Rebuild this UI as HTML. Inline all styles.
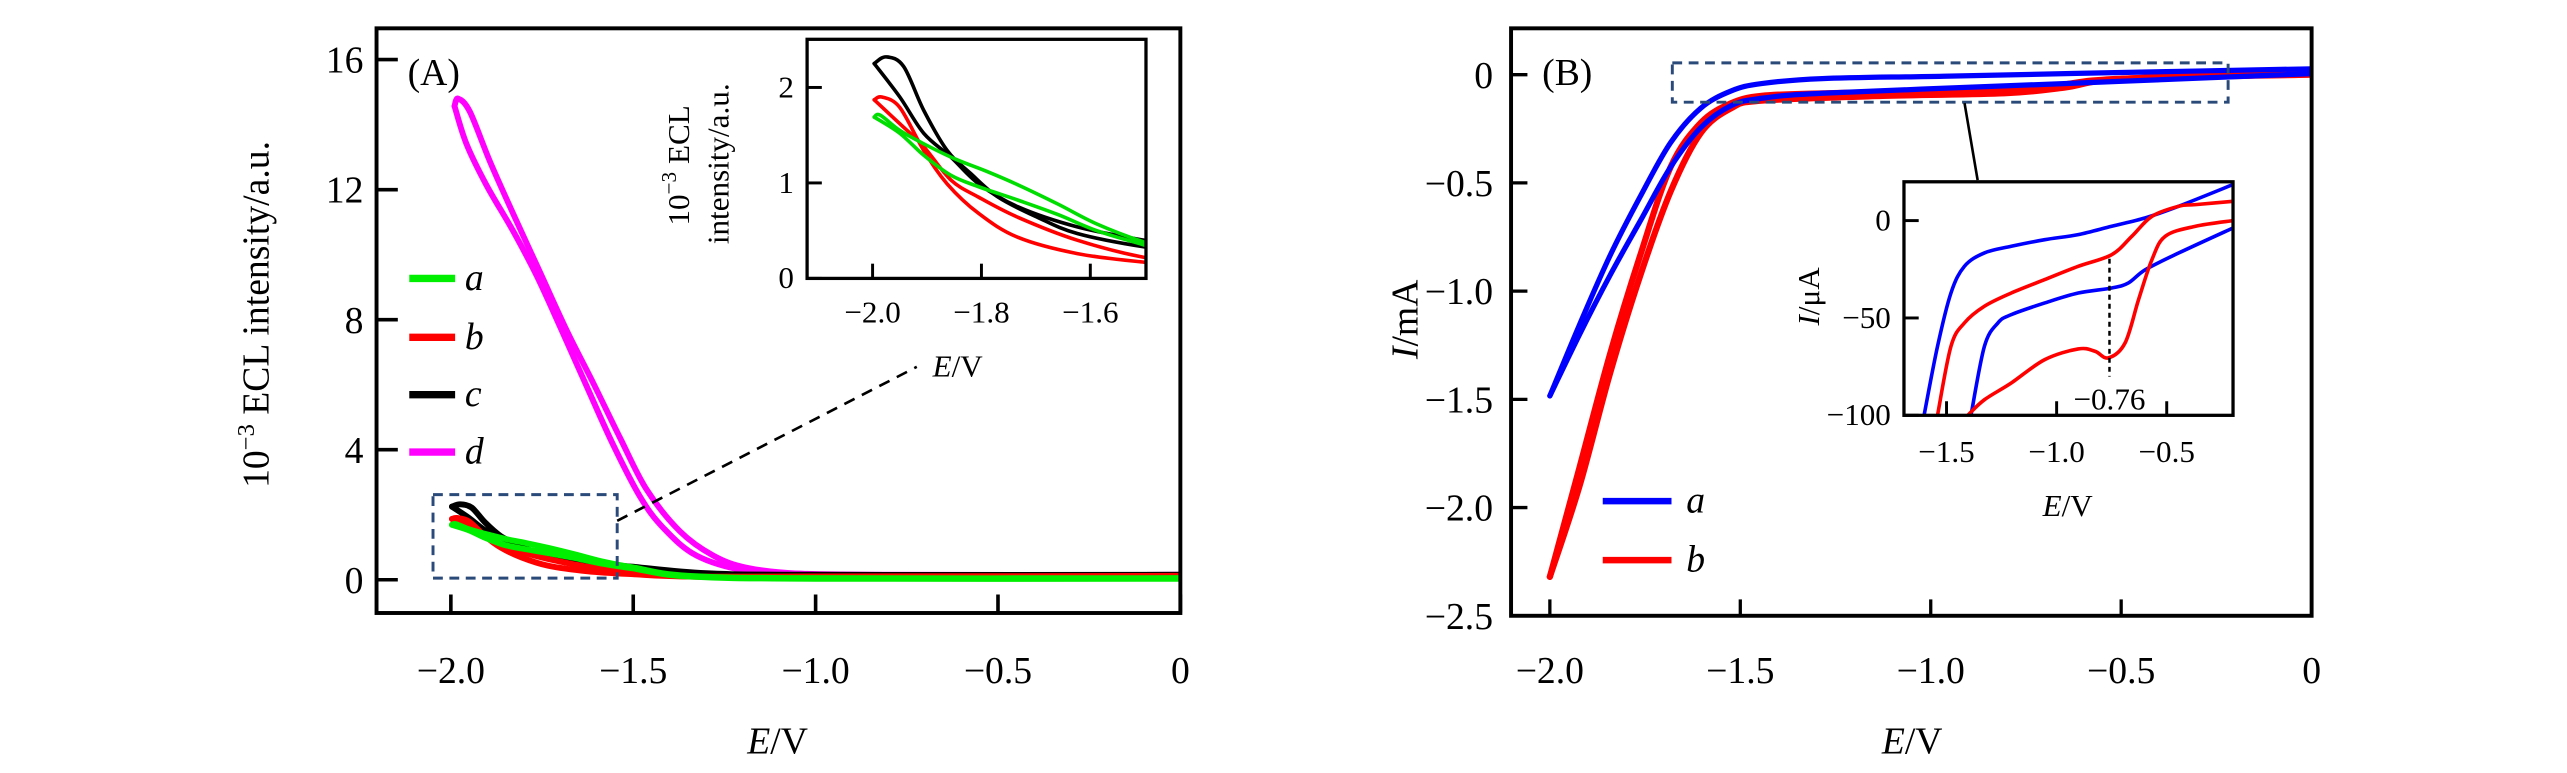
<!DOCTYPE html>
<html><head><meta charset="utf-8">
<style>
html,body{margin:0;padding:0;background:#fff;}
svg{display:block;font-family:"Liberation Serif",serif;}
</style></head>
<body>
<svg id="fig" width="2567" height="773" viewBox="0 0 1568 472" preserveAspectRatio="none" xmlns="http://www.w3.org/2000/svg">
<defs>
<clipPath id="clipA"><rect x="230" y="17" width="491" height="357"/></clipPath>
<clipPath id="clipAi"><rect x="493" y="24" width="207" height="146"/></clipPath>
<clipPath id="clipB"><rect x="923" y="17" width="489" height="359"/></clipPath>
<clipPath id="clipBi"><rect x="1163" y="111" width="201" height="143"/></clipPath>
</defs>
<g id="root"></g>
</svg>
<script>
// ---------- Panel A main data (E / V, 10^-3 ECL) ----------
const dE1=[-1.99,-1.98,-1.948,-1.893,-1.83,-1.756,-1.682,-1.61,-1.536,-1.463,-1.372,-1.28,-1.189,-1.05,-0.8,0];
const dY1=[14.57,14.8,14.4,12.87,11.28,9.47,7.66,6.06,4.36,2.77,1.49,0.74,0.37,0.19,0.15,0.15];
const dE2=[-1.99,-1.957,-1.902,-1.83,-1.765,-1.70,-1.628,-1.555,-1.481,-1.418,-1.326,-1.189,-1.05,-0.8,0];
const dY2=[14.57,13.4,12.13,10.74,9.36,7.77,5.96,4.15,2.55,1.6,0.74,0.27,0.19,0.15,0.15];
const cE1=[-1.997,-1.975,-1.943,-1.906,-1.863,-1.820,-1.769,-1.697,-1.624,-1.501,-1.3,-1.0,0];
const cY1=[2.25,2.32,2.22,1.76,1.34,1.10,0.85,0.64,0.47,0.33,0.18,0.15,0.15];
const cE2=[-1.997,-1.950,-1.906,-1.856,-1.805,-1.733,-1.624,-1.501,-1.3,-1.0,0];
const cY2=[2.25,1.90,1.52,1.27,0.99,0.75,0.54,0.40,0.2,0.15,0.15];
const bE1=[-1.997,-1.983,-1.950,-1.906,-1.863,-1.805,-1.733,-1.624,-1.501,-1.35,-1.0,0];
const bY1=[1.87,1.90,1.79,1.34,0.99,0.68,0.43,0.26,0.17,0.1,0.1,0.12];
const bE2=[-1.997,-1.950,-1.906,-1.856,-1.805,-1.733,-1.624,-1.501,-1.35,-1.0,0];
const bY2=[1.87,1.62,1.38,1.03,0.85,0.64,0.40,0.22,0.1,0.08,0.1];
const aE1=[-1.997,-1.986,-1.950,-1.906,-1.848,-1.790,-1.733,-1.66,-1.588,-1.501,-1.35,-1.0,0];
const aY1=[1.69,1.71,1.55,1.41,1.25,1.12,0.98,0.78,0.57,0.38,0.12,0.05,0.05];
const aE2=[-1.997,-1.950,-1.906,-1.856,-1.805,-1.733,-1.66,-1.588,-1.501,-1.35,-1.0,0];
const aY2=[1.69,1.52,1.29,1.08,0.96,0.82,0.67,0.50,0.35,0.1,0.03,0.03];
const yTicksA=[0,4,8,12,16];
const xTicksA=[-2.0,-1.5,-1.0,-0.5,0];
const xTickLabelsA=["\u22122.0","\u22121.5","\u22121.0","\u22120.5","0"];
const yTicksAi=[0,1,2];
const xTicksAi=[-2.0,-1.8,-1.6];
const xTickLabelsAi=["\u22122.0","\u22121.8","\u22121.6"];
// ---------- Panel B main data (E / V, I / mA) ----------
const baE1=[-2.0,-1.922,-1.842,-1.763,-1.683,-1.604,-1.524,-1.444,-1.285,-0.967,-0.5,0];
const baI1=[-1.484,-1.155,-0.836,-0.564,-0.314,-0.155,-0.075,-0.041,-0.018,-0.007,0.01,0.027];
const baE2=[-2.0,-1.922,-1.842,-1.763,-1.683,-1.604,-1.524,-1.444,-1.285,-0.807,-0.49,0];
const baI2=[-1.484,-1.2,-0.927,-0.677,-0.427,-0.245,-0.143,-0.109,-0.086,-0.052,-0.03,0.005];
const bbE1=[-2.0,-1.922,-1.842,-1.763,-1.683,-1.604,-1.524,-1.444,-1.285,-0.967,-0.73,-0.65,-0.49,0];
const bbI1=[-2.32,-1.814,-1.291,-0.836,-0.427,-0.223,-0.132,-0.098,-0.086,-0.075,-0.07,-0.045,-0.018,0.0];
const bbE2=[-2.0,-1.922,-1.842,-1.763,-1.683,-1.604,-1.524,-1.444,-1.126,-0.807,-0.65,-0.5,0];
const bbI2=[-2.32,-1.9,-1.38,-0.93,-0.54,-0.27,-0.155,-0.12,-0.098,-0.086,-0.06,-0.02,0.02];
const yTicksB=[0,-0.5,-1.0,-1.5,-2.0,-2.5];
const yTickLabelsB=["0","\u22120.5","\u22121.0","\u22121.5","\u22122.0","\u22122.5"];
const xTicksB=[-2.0,-1.5,-1.0,-0.5,0];
const xTickLabelsB=["\u22122.0","\u22121.5","\u22121.0","\u22120.5","0"];
// ---------- Panel B inset data (E / V, I / uA) ----------
const iaE1=[-1.602,-1.541,-1.480,-1.419,-1.328,-1.206,-1.054,-0.902,-0.750,-0.597,-0.445,-0.199];
const iaI1=[-100,-64.6,-37.2,-23.5,-16.6,-13.2,-9.8,-7.2,-2.9,1.4,7.4,18.5];
const iaE2=[-1.389,-1.328,-1.267,-1.206,-1.054,-0.902,-0.750,-0.674,-0.597,-0.445,-0.199];
const iaI2=[-100,-64.6,-52.6,-48.3,-42.3,-37.2,-34.6,-32.0,-25.2,-16.6,-3.8];
const ibE1=[-1.541,-1.480,-1.419,-1.328,-1.206,-1.054,-0.902,-0.750,-0.658,-0.567,-0.445,-0.369,-0.199];
const ibI1=[-100,-64.6,-52.6,-44.0,-37.2,-30.3,-23.5,-17.5,-8.0,2.2,7.4,8.2,9.9];
const ibE2=[-1.404,-1.328,-1.206,-1.054,-0.902,-0.826,-0.765,-0.689,-0.628,-0.567,-0.506,-0.369,-0.199];
const ibI2=[-100,-92.0,-83.4,-71.4,-65.9,-67.1,-70.5,-62.8,-40.6,-20.0,-8.0,-2.9,0];
const yTicksBi=[0,-50,-100];
const yTickLabelsBi=["0","\u221250","\u2212100"];
const xTicksBi=[-1.5,-1.0,-0.5];
const xTickLabelsBi=["\u22121.5","\u22121.0","\u22120.5"];
const peakE=-0.76;

const NS="http://www.w3.org/2000/svg";
const root=document.getElementById('root');
function el(tag,attrs,parent,text){const e=document.createElementNS(NS,tag);for(const k in attrs)e.setAttribute(k,attrs[k]);if(text!==undefined)e.textContent=text;(parent||root).appendChild(e);return e;}
function lin(d0,d1,p0,p1){return v=>p0+(v-d0)*(p1-p0)/(d1-d0);}
function pathD(xs,ys,sx,sy){
  const p=xs.map((x,i)=>[sx(x),sy(ys[i])]);
  let d="M"+p[0][0].toFixed(2)+","+p[0][1].toFixed(2);
  for(let i=0;i<p.length-1;i++){
    const p0=p[i-1]||p[i],p1=p[i],p2=p[i+1],p3=p[i+2]||p2;
    const c1x=p1[0]+(p2[0]-p0[0])/6,c1y=p1[1]+(p2[1]-p0[1])/6;
    const c2x=p2[0]-(p3[0]-p1[0])/6,c2y=p2[1]-(p3[1]-p1[1])/6;
    d+=" C"+c1x.toFixed(2)+","+c1y.toFixed(2)+" "+c2x.toFixed(2)+","+c2y.toFixed(2)+" "+p2[0].toFixed(2)+","+p2[1].toFixed(2);
  }
  return d;
}
function curve(g,xs,ys,sx,sy,color,w,name){
  const p=el('path',{d:pathD(xs,ys,sx,sy),fill:'none',stroke:color,'stroke-width':w,'stroke-linejoin':'round','stroke-linecap':'round'},g);
  
  
}

// ================= Panel A =================
const AxS=lin(-2.0,0,275.4,721), AyS=lin(0,16,354,36.4);
const gA=el('g',{});


const curvesA=el('g',{'clip-path':'url(#clipA)'},gA);


curve(curvesA,dE1,dY1,AxS,AyS,'#ff00ff',3.6,'curve-d-forward');
curve(curvesA,dE2,dY2,AxS,AyS,'#ff00ff',3.6,'curve-d-reverse');
curve(curvesA,cE1,cY1,AxS,AyS,'#000',3.6,'curve-c-forward');
curve(curvesA,cE2,cY2,AxS,AyS,'#000',3.6,'curve-c-reverse');
curve(curvesA,bE1,bY1,AxS,AyS,'#ff0000',3.6,'curve-b-forward');
curve(curvesA,bE2,bY2,AxS,AyS,'#ff0000',3.6,'curve-b-reverse');
curve(curvesA,aE1,aY1,AxS,AyS,'#00ee00',3.6,'curve-a-forward');
curve(curvesA,aE2,aY2,AxS,AyS,'#00ee00',3.6,'curve-a-reverse');
let fr=el('rect',{x:230,y:17.3,width:491,height:357,fill:'none',stroke:'#000','stroke-width':2.4},gA);

yTicksA.forEach(v=>{
  el('line',{x1:230,x2:243,y1:AyS(v),y2:AyS(v),stroke:'#000','stroke-width':2.2},gA);
  const t=el('text',{x:222,y:AyS(v)+8,'text-anchor':'end','font-size':23},gA,String(v));
  
});
xTicksA.forEach((v,i)=>{
  el('line',{x1:AxS(v),x2:AxS(v),y1:374,y2:363,stroke:'#000','stroke-width':2.2},gA);
  const t=el('text',{x:AxS(v),y:417,'text-anchor':'middle','font-size':23},gA,xTickLabelsA[i]);
  
});
let tt=el('text',{x:0,y:0,'text-anchor':'middle','font-size':23,transform:'translate(164,192) rotate(-90)'},gA);

el('tspan',{},tt,'10');el('tspan',{'font-size':15,dy:-9},tt,'\u22123');el('tspan',{dy:9},tt,' ECL intensity/a.u.');
tt=el('text',{x:475,y:460,'text-anchor':'middle','font-size':23},gA);

el('tspan',{'font-style':'italic'},tt,'E');el('tspan',{},tt,'/V');
tt=el('text',{x:249,y:52,'font-size':23},gA,'(A)');

[['a','#00ee00',170],['b','#ff0000',206],['c','#000',241],['d','#ff00ff',276]].forEach(L=>{
  const g=el('g',{},gA);
  
  el('line',{x1:250,x2:278,y1:L[2],y2:L[2],stroke:L[1],'stroke-width':4.5},g);
  el('text',{x:284,y:L[2]+7,'font-size':23,'font-style':'italic'},g,L[0]);
});
let zb=el('rect',{x:264.5,y:302,width:112.5,height:51,fill:'none',stroke:'#2a4a7a','stroke-width':1.8,'stroke-dasharray':'6,4'},gA);

zb=el('line',{x1:377,y1:318,x2:560,y2:224,stroke:'#000','stroke-width':1.6,'stroke-dasharray':'7,5'},gA);

// inset A
const AixS=lin(-2.0,-1.6,533,666), AiyS=lin(0,2,170,53.4);
const gAi=el('g',{},gA);

el('rect',{x:493,y:24,width:207,height:146,fill:'#fff',stroke:'none'},gAi);
const cAi=el('g',{'clip-path':'url(#clipAi)'},gAi);
curve(cAi,cE1,cY1,AixS,AiyS,'#000',2.2,'inset-curve-c-forward');
curve(cAi,cE2,cY2,AixS,AiyS,'#000',2.2,'inset-curve-c-reverse');
curve(cAi,bE1,bY1,AixS,AiyS,'#ff0000',2.2,'inset-curve-b-forward');
curve(cAi,bE2,bY2,AixS,AiyS,'#ff0000',2.2,'inset-curve-b-reverse');
curve(cAi,aE1,aY1,AixS,AiyS,'#00dd00',2.2,'inset-curve-a-forward');
curve(cAi,aE2,aY2,AixS,AiyS,'#00dd00',2.2,'inset-curve-a-reverse');
el('rect',{x:493,y:24,width:207,height:146,fill:'none',stroke:'#000','stroke-width':2},gAi);
yTicksAi.forEach(v=>{
  el('line',{x1:493,x2:502,y1:AiyS(v),y2:AiyS(v),stroke:'#000','stroke-width':1.8},gAi);
  const t=el('text',{x:485,y:AiyS(v)+6,'text-anchor':'end','font-size':19},gAi,String(v));
  
});
xTicksAi.forEach((v,i)=>{
  el('line',{x1:AixS(v),x2:AixS(v),y1:170,y2:161,stroke:'#000','stroke-width':1.8},gAi);
  const t=el('text',{x:AixS(v),y:197,'text-anchor':'middle','font-size':19},gAi,xTickLabelsAi[i]);
  
});
tt=el('text',{x:0,y:0,'text-anchor':'middle','font-size':19,transform:'translate(421,101) rotate(-90)'},gAi);

el('tspan',{},tt,'10');el('tspan',{'font-size':13,dy:-8},tt,'\u22123');el('tspan',{dy:8},tt,' ECL');
tt=el('text',{x:0,y:0,'text-anchor':'middle','font-size':19,transform:'translate(445,100) rotate(-90)'},gAi,'intensity/a.u.');

tt=el('text',{x:585,y:230,'text-anchor':'middle','font-size':19},gAi);

el('tspan',{'font-style':'italic'},tt,'E');el('tspan',{},tt,'/V');

// ================= Panel B =================
const BxS=lin(-2.0,0,946.7,1412), ByS=lin(0,-2.5,45.6,376);
const gB=el('g',{});

const cB=el('g',{'clip-path':'url(#clipB)'},gB);
curve(cB,bbE1,bbI1,BxS,ByS,'#ff0000',3.8,'curve-b-forward');
curve(cB,bbE2,bbI2,BxS,ByS,'#ff0000',3.8,'curve-b-reverse');
curve(cB,baE1,baI1,BxS,ByS,'#0000ff',3.2,'curve-a-forward');
curve(cB,baE2,baI2,BxS,ByS,'#0000ff',3.2,'curve-a-reverse');
fr=el('rect',{x:923,y:17.3,width:489,height:358.7,fill:'none',stroke:'#000','stroke-width':2.4},gB);

yTicksB.forEach((v,i)=>{
  el('line',{x1:923,x2:933,y1:ByS(v),y2:ByS(v),stroke:'#000','stroke-width':2},gB);
  const t=el('text',{x:912,y:ByS(v)+8,'text-anchor':'end','font-size':23},gB,yTickLabelsB[i]);
  
});
xTicksB.forEach((v,i)=>{
  el('line',{x1:BxS(v),x2:BxS(v),y1:376,y2:366,stroke:'#000','stroke-width':2},gB);
  const t=el('text',{x:BxS(v),y:417,'text-anchor':'middle','font-size':23},gB,xTickLabelsB[i]);
  
});
tt=el('text',{x:0,y:0,'text-anchor':'middle','font-size':23,transform:'translate(866,195) rotate(-90)'},gB);

el('tspan',{'font-style':'italic'},tt,'I');el('tspan',{},tt,'/mA');
tt=el('text',{x:1168,y:460,'text-anchor':'middle','font-size':23},gB);

el('tspan',{'font-style':'italic'},tt,'E');el('tspan',{},tt,'/V');
tt=el('text',{x:942,y:52,'font-size':23},gB,'(B)');

[['a','#0000ff',306],['b','#ff0000',342]].forEach(L=>{
  const g=el('g',{},gB);
  
  el('line',{x1:979,x2:1021,y1:L[2],y2:L[2],stroke:L[1],'stroke-width':4},g);
  el('text',{x:1030,y:L[2]+7,'font-size':23,'font-style':'italic'},g,L[0]);
});
zb=el('rect',{x:1021.5,y:38.4,width:339.5,height:24,fill:'none',stroke:'#2a4a7a','stroke-width':1.8,'stroke-dasharray':'6,4'},gB);

zb=el('line',{x1:1200,y1:63,x2:1208,y2:110,stroke:'#000','stroke-width':1.6},gB);

// inset B
const BixS=lin(-1.5,-0.5,1189,1323.5), BiyS=lin(0,-100,134.7,253.6);
const gBi=el('g',{},gB);

el('rect',{x:1163,y:111,width:201,height:143,fill:'#fff',stroke:'none'},gBi);
const cBi=el('g',{'clip-path':'url(#clipBi)'},gBi);
curve(cBi,iaE1,iaI1,BixS,BiyS,'#0000ff',2.2,'inset-curve-a-forward');
curve(cBi,iaE2,iaI2,BixS,BiyS,'#0000ff',2.2,'inset-curve-a-reverse');
curve(cBi,ibE1,ibI1,BixS,BiyS,'#ff0000',2.2,'inset-curve-b-forward');
curve(cBi,ibE2,ibI2,BixS,BiyS,'#ff0000',2.2,'inset-curve-b-reverse');
let pk=el('line',{x1:BixS(peakE),x2:BixS(peakE),y1:158,y2:230,stroke:'#000','stroke-width':1.5,'stroke-dasharray':'3,2.5'},gBi);

el('rect',{x:1163,y:111,width:201,height:142.6,fill:'none',stroke:'#000','stroke-width':2},gBi);
yTicksBi.forEach((v,i)=>{
  el('line',{x1:1163,x2:1172,y1:BiyS(v),y2:BiyS(v),stroke:'#000','stroke-width':1.8},gBi);
  const t=el('text',{x:1155,y:BiyS(v)+6,'text-anchor':'end','font-size':19},gBi,yTickLabelsBi[i]);
  
});
xTicksBi.forEach((v,i)=>{
  el('line',{x1:BixS(v),x2:BixS(v),y1:253.6,y2:245,stroke:'#000','stroke-width':1.8},gBi);
  const t=el('text',{x:BixS(v),y:282,'text-anchor':'middle','font-size':19},gBi,xTickLabelsBi[i]);
  
});
tt=el('text',{x:BixS(peakE),y:250,'text-anchor':'middle','font-size':19},gBi,'\u22120.76');

tt=el('text',{x:0,y:0,'text-anchor':'middle','font-size':19,transform:'translate(1111,181) rotate(-90)'},gBi);

el('tspan',{'font-style':'italic'},tt,'I');el('tspan',{},tt,'/\u03bcA');
tt=el('text',{x:1263,y:315,'text-anchor':'middle','font-size':19},gBi);

el('tspan',{'font-style':'italic'},tt,'E');el('tspan',{},tt,'/V');
</script>
</body></html>
